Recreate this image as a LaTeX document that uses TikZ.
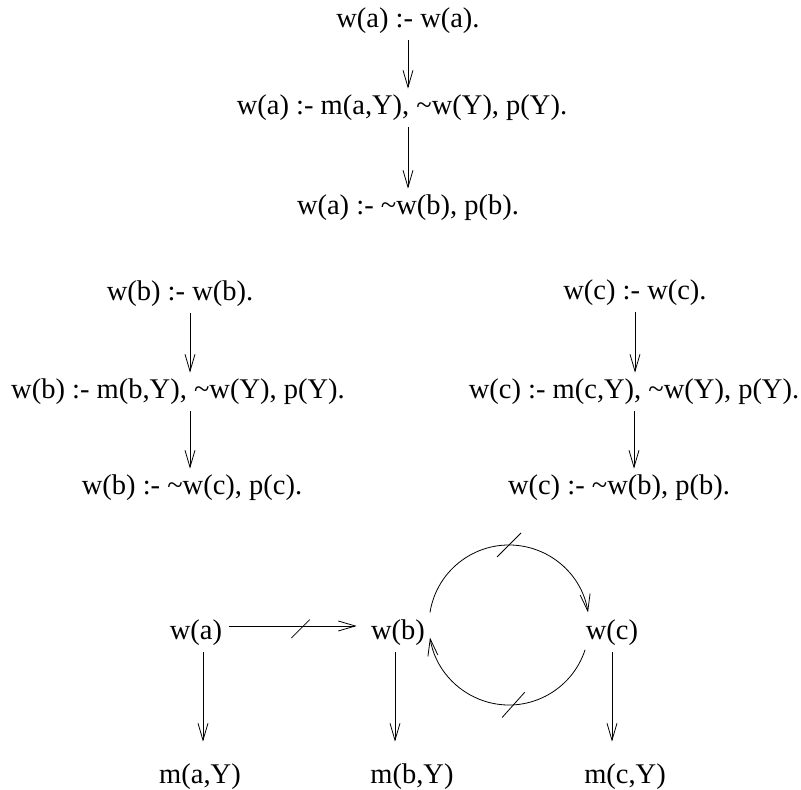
\documentclass[tikz,border=0pt]{standalone}
\usepackage{fontspec}
\setmainfont{Liberation Serif}
\usetikzlibrary{arrows.meta,decorations.markings}

\newcommand{\tld}{\textasciitilde}

\begin{document}
\begin{tikzpicture}[x=1pt, y=1pt, line width=0.8pt,
        every node/.style={font=\fontsize{28.5}{34}\selectfont, inner sep=6pt},
        arr/.style={-{Straight Barb[length=17pt,width=10pt,line width=0.8pt]}},
        slashed/.style={postaction={decorate, decoration={markings,
            mark=at position #1 with {\draw[-] (-12pt,-12pt) -- (12pt,12pt);}}}}]
        \useasboundingbox (0,0) rectangle (801,790);

        % derivation for w(a)
        \node (a1) at (408,769) {w(a) :- w(a).};
        \node (a2) at (402,682) {w(a) :- m(a,Y), \tld w(Y), p(Y).};
        \node (a3) at (408,582) {w(a) :- \tld w(b), p(b).};

        % derivation for w(b)
        \node (b1) at (180,496) {w(b) :- w(b).};
        \node (b2) at (178,398) {w(b) :- m(b,Y), \tld w(Y), p(Y).};
        \node (b3) at (192,302) {w(b) :- \tld w(c), p(c).};

        % derivation for w(c)
        \node (c1) at (635,497) {w(c) :- w(c).};
        \node (c2) at (634,398) {w(c) :- m(c,Y), \tld w(Y), p(Y).};
        \node (c3) at (619,302) {w(c) :- \tld w(b), p(b).};

        \draw[arr] (a1.south) -- (a1.south |- a2.north);
        \draw[arr] ([xshift=6pt]a2.south) -- ([xshift=6pt]a2.south |- a3.north);
        \draw[arr] ([xshift=10pt]b1.south) -- ([xshift=10pt]b1.south |- b2.north);
        \draw[arr] ([xshift=12pt]b2.south) -- ([xshift=12pt]b2.south |- b3.north);
        \draw[arr] (c1.south) -- (c1.south |- c2.north);
        \draw[arr] (c2.south) -- (c2.south |- c3.north);

        % dependency graph
        \node (wa) at (196,157) {w(a)};
        \node (wb) at (398,157) {w(b)};
        \node (wc) at (612,157) {w(c)};
        \node (ma) at (200,13) {m(a,Y)};
        \node (mb) at (412,13) {m(b,Y)};
        \node (mc) at (625,13) {m(c,Y)};
        \coordinate (hub) at (509,165);

        \draw[arr, slashed=0.55, shorten >=8pt] ([yshift=7pt]wa.east) -- ([yshift=7pt]wb.west);
        \draw[arr, shorten >=16pt] ([xshift=7pt]wa.south) -- ([xshift=7pt]wa.south |- ma.north);
        \draw[arr, shorten >=16pt] ([xshift=-3pt]wb.south) -- ([xshift=-3pt]wb.south |- mb.north);
        \draw[arr, shorten >=16pt] (wc.south) -- (wc.south |- mc.north);
        \draw[arr, slashed=0.5] ([shift={(171:80)}]hub) arc[start angle=171, end angle=9, radius=80];
        \draw[arr, slashed=0.45] ([shift={(-18:80)}]hub) arc[start angle=-18, end angle=-171, radius=80];
    \end{tikzpicture}
\end{document}
